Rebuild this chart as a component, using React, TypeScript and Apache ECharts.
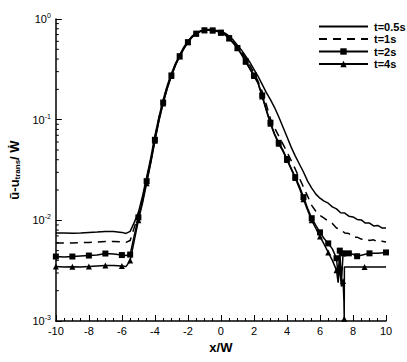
import React, { useEffect, useRef } from "react";
import * as echarts from "echarts";

const LEGEND = ["t=0.5s", "t=1s", "t=2s", "t=4s"];

const GRID = [-10, -9.5, -9, -8.5, -8, -7.5, -7, -6.5, -6, -5.75, -5.5, -5.25, -5, -4.75, -4.5, -4.25, -4, -3.75, -3.5, -3.25, -3, -2.75, -2.5, -2.25, -2, -1.75, -1.5, -1.25, -1, -0.75, -0.5, -0.25, 0, 0.25, 0.5, 0.75, 1, 1.25, 1.5, 1.75, 2, 2.25, 2.5, 2.75, 3, 3.25, 3.5, 3.75, 4, 4.25, 4.5, 4.75, 5, 5.25, 5.5, 5.75, 6, 6.25, 6.5, 6.75, 7];

const X05 = [...GRID, 7.25, 7.5, 7.75, 8, 8.25, 8.5, 8.75, 9, 9.25, 9.5, 9.75, 10];
const Y05 = [0.0075, 0.0075, 0.00745, 0.0075, 0.00759, 0.00767, 0.00776, 0.00776, 0.00759, 0.00741, 0.00776, 0.00955, 0.012, 0.0174, 0.0269, 0.0417, 0.0692, 0.107, 0.158, 0.219, 0.288, 0.363, 0.437, 0.525, 0.603, 0.676, 0.724, 0.759, 0.776, 0.785, 0.776, 0.767, 0.75, 0.724, 0.676, 0.617, 0.55, 0.49, 0.427, 0.372, 0.316, 0.269, 0.224, 0.186, 0.158, 0.132, 0.107, 0.0851, 0.0676, 0.0537, 0.0437, 0.0363, 0.0302, 0.0245, 0.0209, 0.0182, 0.0166, 0.0155, 0.0148, 0.0136, 0.013, 0.0119, 0.0118, 0.011, 0.0108, 0.0102, 0.0101, 0.0094, 0.0094, 0.0088, 0.0089, 0.0084, 0.0084];

const X1 = [...GRID, 7.25, 7.5, 7.75, 8, 8.25, 8.5, 8.75, 9, 9.25, 9.5, 9.75, 10];
const Y1 = [0.00597, 0.00597, 0.00596, 0.006, 0.00603, 0.0061, 0.00617, 0.00617, 0.0061, 0.00603, 0.00631, 0.00851, 0.0112, 0.0162, 0.0257, 0.0398, 0.0661, 0.105, 0.155, 0.214, 0.282, 0.355, 0.432, 0.513, 0.596, 0.668, 0.724, 0.759, 0.776, 0.78, 0.773, 0.759, 0.741, 0.711, 0.661, 0.596, 0.531, 0.468, 0.407, 0.347, 0.292, 0.24, 0.19, 0.141, 0.102, 0.083, 0.069, 0.0575, 0.0479, 0.0394, 0.0324, 0.0263, 0.0214, 0.0174, 0.0141, 0.0123, 0.0112, 0.0105, 0.0098, 0.0093, 0.0084, 0.0081, 0.0075, 0.0074, 0.0068, 0.0068, 0.0065, 0.0066, 0.0063, 0.0064, 0.0061, 0.0062, 0.0061];

const X2 = [...GRID, 7.1, 7.2, 7.3, 7.4, 7.5, 7.75, 8, 8.25, 8.5, 9, 9.5, 10];
const Y2 = [0.00437, 0.00432, 0.00437, 0.00442, 0.00447, 0.00452, 0.00468, 0.00462, 0.00452, 0.00447, 0.00457, 0.00708, 0.0107, 0.0155, 0.0245, 0.038, 0.0631, 0.1, 0.148, 0.207, 0.275, 0.351, 0.427, 0.507, 0.589, 0.661, 0.716, 0.755, 0.773, 0.776, 0.771, 0.759, 0.733, 0.7, 0.646, 0.582, 0.515, 0.447, 0.38, 0.324, 0.275, 0.234, 0.174, 0.126, 0.0933, 0.0724, 0.0589, 0.0501, 0.0407, 0.0331, 0.0269, 0.0219, 0.017, 0.0132, 0.0105, 0.0089, 0.0076, 0.0066, 0.0059, 0.0052, 0.0042, 0.0028, 0.005, 0.0024, 0.0047, 0.0044, 0.0047, 0.0046, 0.0044, 0.0045, 0.0047, 0.0047, 0.0048];

const X4 = [...GRID, 7.1, 7.2, 7.3, 7.4, 7.45, 7.47, 7.48, 8.7, 10];
const Y4 = [0.00347, 0.00344, 0.00345, 0.00343, 0.00347, 0.00351, 0.00355, 0.00355, 0.00351, 0.00347, 0.00398, 0.0063, 0.01, 0.0148, 0.0234, 0.0372, 0.0617, 0.0977, 0.145, 0.204, 0.272, 0.347, 0.424, 0.504, 0.586, 0.658, 0.713, 0.752, 0.771, 0.774, 0.769, 0.755, 0.73, 0.695, 0.641, 0.575, 0.513, 0.442, 0.376, 0.32, 0.272, 0.229, 0.17, 0.123, 0.0912, 0.0708, 0.0575, 0.049, 0.0398, 0.0324, 0.0263, 0.0209, 0.0162, 0.0126, 0.01, 0.0083, 0.0069, 0.0058, 0.0048, 0.004, 0.0032, 0.0024, 0.0035, 0.0022, 0.0025, 0.0016, 0.00105, 0.00344, 0.00344, 0.00344];

const Y_DECADES = [-3, -2, -1];
const MINOR_MULT = [2, 3, 4, 5, 6, 7, 8, 9];

const FONT = "Liberation Sans";

function toData(xs: number[], ys: number[], marker: string | null) {
  return xs.map((x, i) => ({
    value: [x, ys[i]],
    symbol: marker && i % 2 === 0 ? marker : "none",
  }));
}

export default function App() {
  const ref = useRef<HTMLDivElement>(null);
  useEffect(() => {
    document.body.style.margin = "0";
    const chart = echarts.init(ref.current!, null, { renderer: "svg" });
    const minorTicks: number[][] = [];
    Y_DECADES.forEach((e) => MINOR_MULT.forEach((m) => minorTicks.push([-10, m * Math.pow(10, e)])));
    const lineBase = {
      type: "line",
      silent: true,
      symbolSize: 6,
      color: "#000",
      itemStyle: { color: "#000" },
      emphasis: { disabled: true },
    };
    const hidden = { color: "rgba(0,0,0,0)", borderWidth: 0, opacity: 0 };
    chart.setOption({
      animation: false,
      grid: { left: 54, right: 21, top: 19, bottom: 41 },
      legend: {
        data: [
          { name: LEGEND[0], itemStyle: hidden },
          { name: LEGEND[1], itemStyle: hidden },
          { name: LEGEND[2] },
          { name: LEGEND[3] },
        ],
        orient: "vertical",
        left: 313,
        top: 16,
        itemWidth: 49,
        itemHeight: 8,
        itemGap: 1.5,
        textStyle: { fontFamily: FONT, fontWeight: "bold", fontSize: 11, color: "#000", padding: [0, 0, 0, 1] },
        selectedMode: false,
      },
      xAxis: {
        type: "value",
        min: -10,
        max: 10,
        interval: 2,
        name: "x/W",
        nameLocation: "middle",
        nameGap: 16,
        nameTextStyle: { fontFamily: FONT, fontWeight: "bold", fontSize: 13, color: "#000" },
        axisLine: { show: true, onZero: false, lineStyle: { color: "#000", width: 1.5 } },
        axisTick: { show: true, inside: true, length: 6, lineStyle: { color: "#000" } },
        minorTick: { show: true, splitNumber: 4, length: 3, lineStyle: { color: "#000" } },
        axisLabel: { fontFamily: FONT, fontSize: 11, color: "#000", margin: 4 },
        splitLine: { show: false },
      },
      yAxis: {
        type: "log",
        logBase: 10,
        min: 0.001,
        max: 1,
        name: "{n|ũ-u}{s|trans}{n|/ Ẇ}",
        nameLocation: "middle",
        nameGap: 26,
        nameRotate: 90,
        nameTextStyle: {
          rich: {
            n: { fontFamily: FONT, fontWeight: "bold", fontSize: 13, color: "#000" },
            s: { fontFamily: FONT, fontWeight: "bold", fontSize: 8, color: "#000", padding: [6, 0, 0, 0] },
          },
        },
        axisLine: { show: true, onZero: false, lineStyle: { color: "#000", width: 1.5 } },
        axisTick: { show: true, inside: true, length: 6, lineStyle: { color: "#000" } },
        axisLabel: {
          margin: 5,
          formatter: (v: number) => "{b|10}{s|" + Math.round(Math.log10(v)) + "}",
          rich: {
            b: { fontFamily: FONT, fontSize: 11, color: "#000" },
            s: { fontFamily: FONT, fontSize: 7, color: "#000", padding: [0, 0, 7, 0] },
          },
        },
        splitLine: { show: false },
      },
      series: [
        { ...lineBase, name: LEGEND[0], symbol: "none", lineStyle: { color: "#000", width: 1.5 }, data: toData(X05, Y05, null) },
        { ...lineBase, name: LEGEND[1], symbol: "none", lineStyle: { color: "#000", width: 1.5, type: [8, 6] }, data: toData(X1, Y1, null) },
        { ...lineBase, name: LEGEND[2], symbol: "rect", lineStyle: { color: "#000", width: 1.5 }, data: toData(X2, Y2, "rect") },
        { ...lineBase, name: LEGEND[3], symbol: "triangle", lineStyle: { color: "#000", width: 1.5 }, data: toData(X4, Y4, "triangle") },
        {
          type: "custom",
          silent: true,
          data: minorTicks,
          renderItem: (params: any, api: any) => {
            const p = api.coord([api.value(0), api.value(1)]);
            return {
              type: "line",
              shape: { x1: p[0], y1: p[1], x2: p[0] + 3, y2: p[1] },
              style: { stroke: "#000", lineWidth: 1 },
            };
          },
        },
      ],
    });
    return () => chart.dispose();
  }, []);
  return <div ref={ref} style={{ width: 407, height: 362 }} />;
}
